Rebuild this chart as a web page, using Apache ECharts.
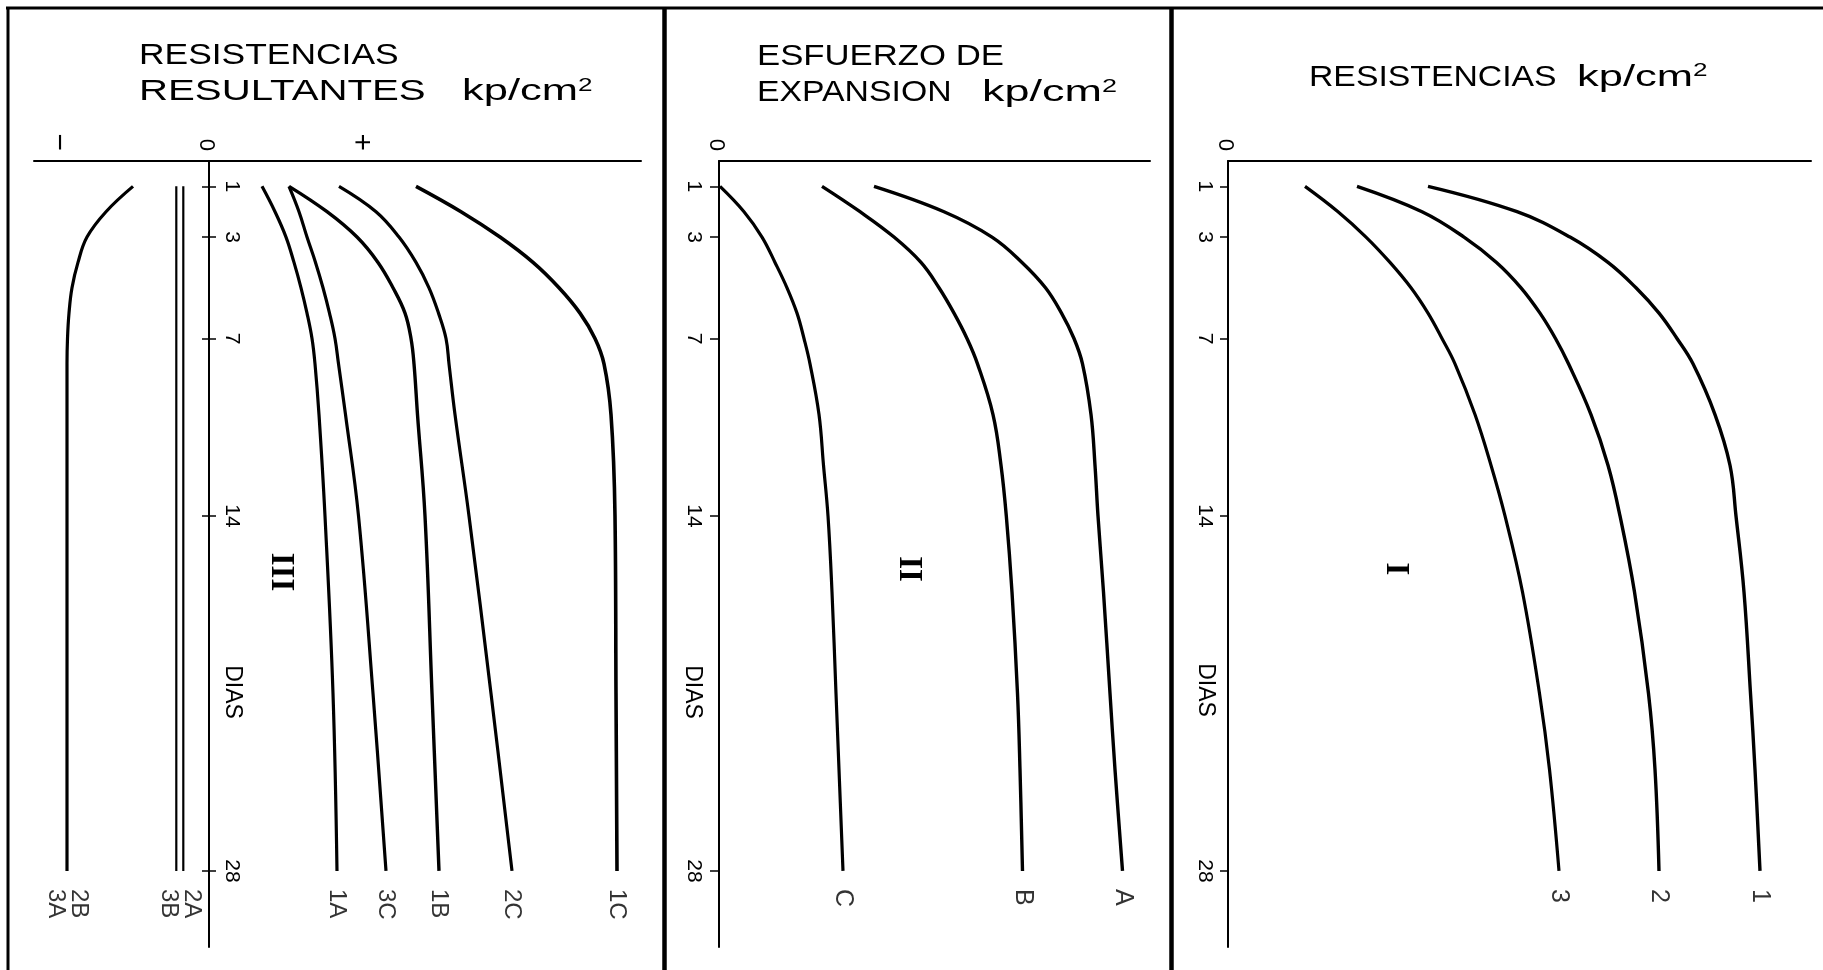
<!DOCTYPE html>
<html><head><meta charset="utf-8">
<script src="https://cdn.jsdelivr.net/npm/echarts@6/dist/echarts.min.js"></script>
<style>html,body{margin:0;padding:0;background:#fff}#c{width:1823px;height:970px}</style>
</head><body><div id="c"></div>
<script>
// ---------- DATA ----------
const dayTicks = [1, 3, 7, 14, 28];              // DIAS tick labels
const signValues = [-14.7, 0, 15.6];             // panel III sign labels
const signLabels = ['\u2212', '0', '+'];
const zeroTick = [0];

// Panel III : resistencias resultantes
const daysIII = [1, 2, 3, 4, 5, 6, 7, 8, 10, 14, 21, 28];
const res2B3A = [-7.6, -10.3, -12.2, -13.1, -13.7, -14.0, -14.15, -14.2, -14.2, -14.2, -14.2, -14.2];
const res1A   = [5.3, 6.6, 7.7, 8.5, 9.2, 9.8, 10.3, 10.6, 11.0, 11.6, 12.4, 12.8];
const res3C   = [8.0, 9.0, 9.8, 10.65, 11.4, 12.05, 12.6, 12.95, 13.65, 14.95, 16.4, 17.7];
const res1B   = [8.0, 11.8, 14.8, 16.9, 18.4, 19.6, 20.2, 20.5, 20.85, 21.6, 22.3, 23.0];
const res2C   = [13.0, 16.7, 19.0, 20.7, 22.0, 22.95, 23.7, 24.0, 24.6, 26.0, 28.2, 30.3];
const res1C   = [20.7, 25.2, 29.1, 32.4, 35.0, 37.1, 38.6, 39.5, 40.2, 40.6, 40.7, 40.8];
const daysFlat = [1, 28];
const res2A   = [-2.57, -2.57];
const res3B   = [-3.27, -3.27];

// Panel II : esfuerzo de expansion
const daysII = [1, 2, 3, 4, 5, 6, 7, 8, 10, 12, 14, 17, 21, 24, 28];
const expC = [0.1, 2.5, 4.3, 5.6, 6.8, 7.8, 8.5, 9.1, 10.0, 10.45, 10.9, 11.3, 11.7, 12.0, 12.4];
const expB = [10.3, 14.1, 17.5, 20.2, 22.0, 23.5, 24.8, 25.85, 27.4, 28.2, 28.73, 29.3, 29.85, 30.1, 30.35];
const expA = [15.5, 22.5, 27.3, 30.3, 32.65, 34.25, 35.5, 36.35, 37.2, 37.6, 37.9, 38.45, 39.1, 39.6, 40.35];

// Panel I : resistencias
const daysI = [1, 2, 3, 4, 5, 6, 7, 8, 10, 12, 14, 17, 21, 24, 28];
const res3 = [7.7, 11.0, 13.8, 16.2, 18.3, 20.0, 21.4, 22.7, 24.7, 26.3, 27.7, 29.45, 31.15, 32.15, 33.1];
const res2 = [12.9, 19.4, 23.6, 26.85, 29.3, 31.2, 32.75, 34.05, 36.3, 38.0, 39.2, 40.65, 42.05, 42.7, 43.1];
const res1 = [20.0, 28.9, 34.2, 38.0, 40.8, 43.1, 44.9, 46.5, 48.7, 50.2, 50.8, 51.6, 52.25, 52.7, 53.2];

// ---------- CHART ----------
const BLACK = '#000';
const SANS = '"Liberation Sans", Arial, sans-serif';
const SERIF = '"Liberation Serif", "DejaVu Serif", serif';
const last = a => a[a.length - 1];

function curve(xi, yi, days, vals, w) {
  return { type: 'line', xAxisIndex: xi, yAxisIndex: yi, silent: true, z: 3,
    data: vals.map((v, i) => [v, days[i]]), smooth: 0.4, symbol: 'none',
    lineStyle: { color: BLACK, width: w } };
}
function names(xi, yi, items, fs) {
  return { type: 'scatter', xAxisIndex: xi, yAxisIndex: yi, symbolSize: 0, silent: true, z: 4,
    data: items.map(it => ({ name: it[0], value: [it[1], it[2]] })),
    label: { show: true, formatter: '{b}', position: 'bottom', distance: 18, rotate: -90,
      align: 'left', verticalAlign: 'middle', fontSize: fs, fontFamily: SANS, color: BLACK, lineHeight: 23 } };
}
function xAx(grid, min, max, vals, labels) {
  return { type: 'value', gridIndex: grid, position: 'top', min, max,
    axisLine: { show: true, onZero: false, lineStyle: { color: BLACK, width: 2 } },
    axisTick: { show: false }, splitLine: { show: false },
    axisLabel: { customValues: vals,
      formatter: v => { const t = labels[vals.indexOf(v)]; return t === '0' ? t : '{s|' + t + '}'; },
      rotate: -90, margin: 10, fontSize: 22, fontFamily: SANS, color: BLACK,
      rich: { s: { fontSize: 30, fontFamily: SANS, color: BLACK } } } };
}
function yAx(grid, o) {
  return { type: 'value', gridIndex: grid, position: 'left', offset: o.offset || 0, min: 0, max: 31, inverse: true,
    splitLine: { show: false },
    axisLine: { show: o.line, onZero: false, lineStyle: { color: BLACK, width: 2 } },
    axisTick: { show: true, customValues: dayTicks, inside: o.tickInside, length: o.tickLen,
      lineStyle: { color: BLACK, width: 1.5 } },
    axisLabel: { show: o.labels, customValues: dayTicks, inside: o.labelInside, rotate: -90,
      margin: o.margin, fontSize: 21, fontFamily: SANS, color: BLACK } };
}
function txt(x, y, text, font, rot) {
  return { type: 'text', x, y, rotation: rot || 0, silent: true,
    style: { text, font, fill: BLACK, align: 'center', verticalAlign: 'middle',
      textAlign: 'center', textVerticalAlign: 'middle' } };
}
function title(x, y, text, sx) {
  const rich = text.indexOf('{') >= 0;
  return { type: 'text', x, y, scaleX: sx, silent: true,
    style: { text, font: '30px ' + SANS, fill: BLACK, align: 'left', verticalAlign: 'middle',
      textAlign: 'left', textVerticalAlign: 'middle',
      rich: rich ? { a: { fontSize: 30, fontFamily: SANS, fill: BLACK },
                     s: { fontSize: 18, fontFamily: SANS, fill: BLACK, verticalAlign: 'top' } } : undefined } };
}
function vline(x, y1, y2, w) { return { type: 'line', silent: true, shape: { x1: x, y1, x2: x, y2 }, style: { stroke: BLACK, lineWidth: w } }; }
function hline(y, x1, x2, w) { return { type: 'line', silent: true, shape: { x1, y1: y, x2, y2: y }, style: { stroke: BLACK, lineWidth: w } }; }

const grids = [
  { left: 34, top: 161, width: 607, height: 786, outerBoundsMode: 'none', containLabel: false },
  { left: 719, top: 161, width: 431, height: 786, outerBoundsMode: 'none', containLabel: false },
  { left: 1228, top: 161, width: 583, height: 786, outerBoundsMode: 'none', containLabel: false }
];
const UNIT = '{a|kp/cm}{s|2}';

const option = {
  animation: false,
  backgroundColor: '#fff',
  grid: grids,
  xAxis: [
    xAx(0, -17.5, 43.2, signValues, signLabels),
    xAx(1, 0, 43.1, zeroTick, ['0']),
    xAx(2, 0, 58.3, zeroTick, ['0'])
  ],
  yAxis: [
    yAx(0, { offset: -175, line: true, tickInside: false, tickLen: 7, labels: true, labelInside: true, margin: 12 }),
    yAx(0, { offset: -175, line: false, tickInside: true, tickLen: 7, labels: false, labelInside: false, margin: 8 }),
    yAx(1, { line: true, tickInside: false, tickLen: 9, labels: true, labelInside: false, margin: 15 }),
    yAx(2, { line: true, tickInside: false, tickLen: 8, labels: true, labelInside: false, margin: 13 })
  ],
  series: [
    curve(0, 0, daysIII, res2B3A, 3.2),
    curve(0, 0, daysFlat, res2A, 2.2),
    curve(0, 0, daysFlat, res3B, 2.2),
    curve(0, 0, daysIII, res1A, 3.2),
    curve(0, 0, daysIII, res3C, 3.2),
    curve(0, 0, daysIII, res1B, 3.4),
    curve(0, 0, daysIII, res2C, 3.2),
    curve(0, 0, daysIII, res1C, 3.6),
    names(0, 0, [
      ['2B\n3A', last(res2B3A), last(daysIII)],
      ['2A\n3B', (last(res2A) + last(res3B)) / 2, last(daysFlat)],
      ['1A', last(res1A), last(daysIII)],
      ['3C', last(res3C), last(daysIII)],
      ['1B', last(res1B), last(daysIII)],
      ['2C', last(res2C), last(daysIII)],
      ['1C', last(res1C), last(daysIII)]
    ], 24),
    curve(1, 2, daysII, expC, 3.2),
    curve(1, 2, daysII, expB, 3.4),
    curve(1, 2, daysII, expA, 3.4),
    names(1, 2, [['C', last(expC), last(daysII)], ['B', last(expB), last(daysII)], ['A', last(expA), last(daysII)]], 25),
    curve(2, 3, daysI, res3, 3.2),
    curve(2, 3, daysI, res2, 3.4),
    curve(2, 3, daysI, res1, 3.4),
    names(2, 3, [['3', last(res3), last(daysI)], ['2', last(res2), last(daysI)], ['1', last(res1), last(daysI)]], 25)
  ],
  graphic: { elements: [
    hline(8, 6, 1823, 3),
    vline(8, 7, 970, 3),
    vline(664.5, 7, 970, 4.5),
    vline(1171.5, 7, 970, 4.5),
    title(139, 56, 'RESISTENCIAS', 1.18),
    title(139, 92, 'RESULTANTES', 1.34),
    title(462, 92, UNIT, 1.45),
    title(757, 57, 'ESFUERZO DE', 1.157),
    title(757, 93, 'EXPANSION', 1.126),
    title(982, 93, UNIT, 1.5),
    title(1309, 77.5, 'RESISTENCIAS', 1.125),
    title(1577, 77.5, UNIT, 1.45),
    txt(281, 572, 'III', 'bold 33px ' + SERIF, -Math.PI / 2),
    txt(909, 569, 'II', 'bold 33px ' + SERIF, -Math.PI / 2),
    txt(1396, 569, 'I', 'bold 33px ' + SERIF, -Math.PI / 2),
    txt(232, 692, 'DIAS', '23px ' + SANS, -Math.PI / 2),
    txt(692, 692, 'DIAS', '23px ' + SANS, -Math.PI / 2),
    txt(1205, 690, 'DIAS', '23px ' + SANS, -Math.PI / 2)
  ] }
};

const chart = echarts.init(document.getElementById('c'), null, { renderer: 'canvas', width: 1823, height: 970 });
chart.setOption(option);
</script>
</body></html>
